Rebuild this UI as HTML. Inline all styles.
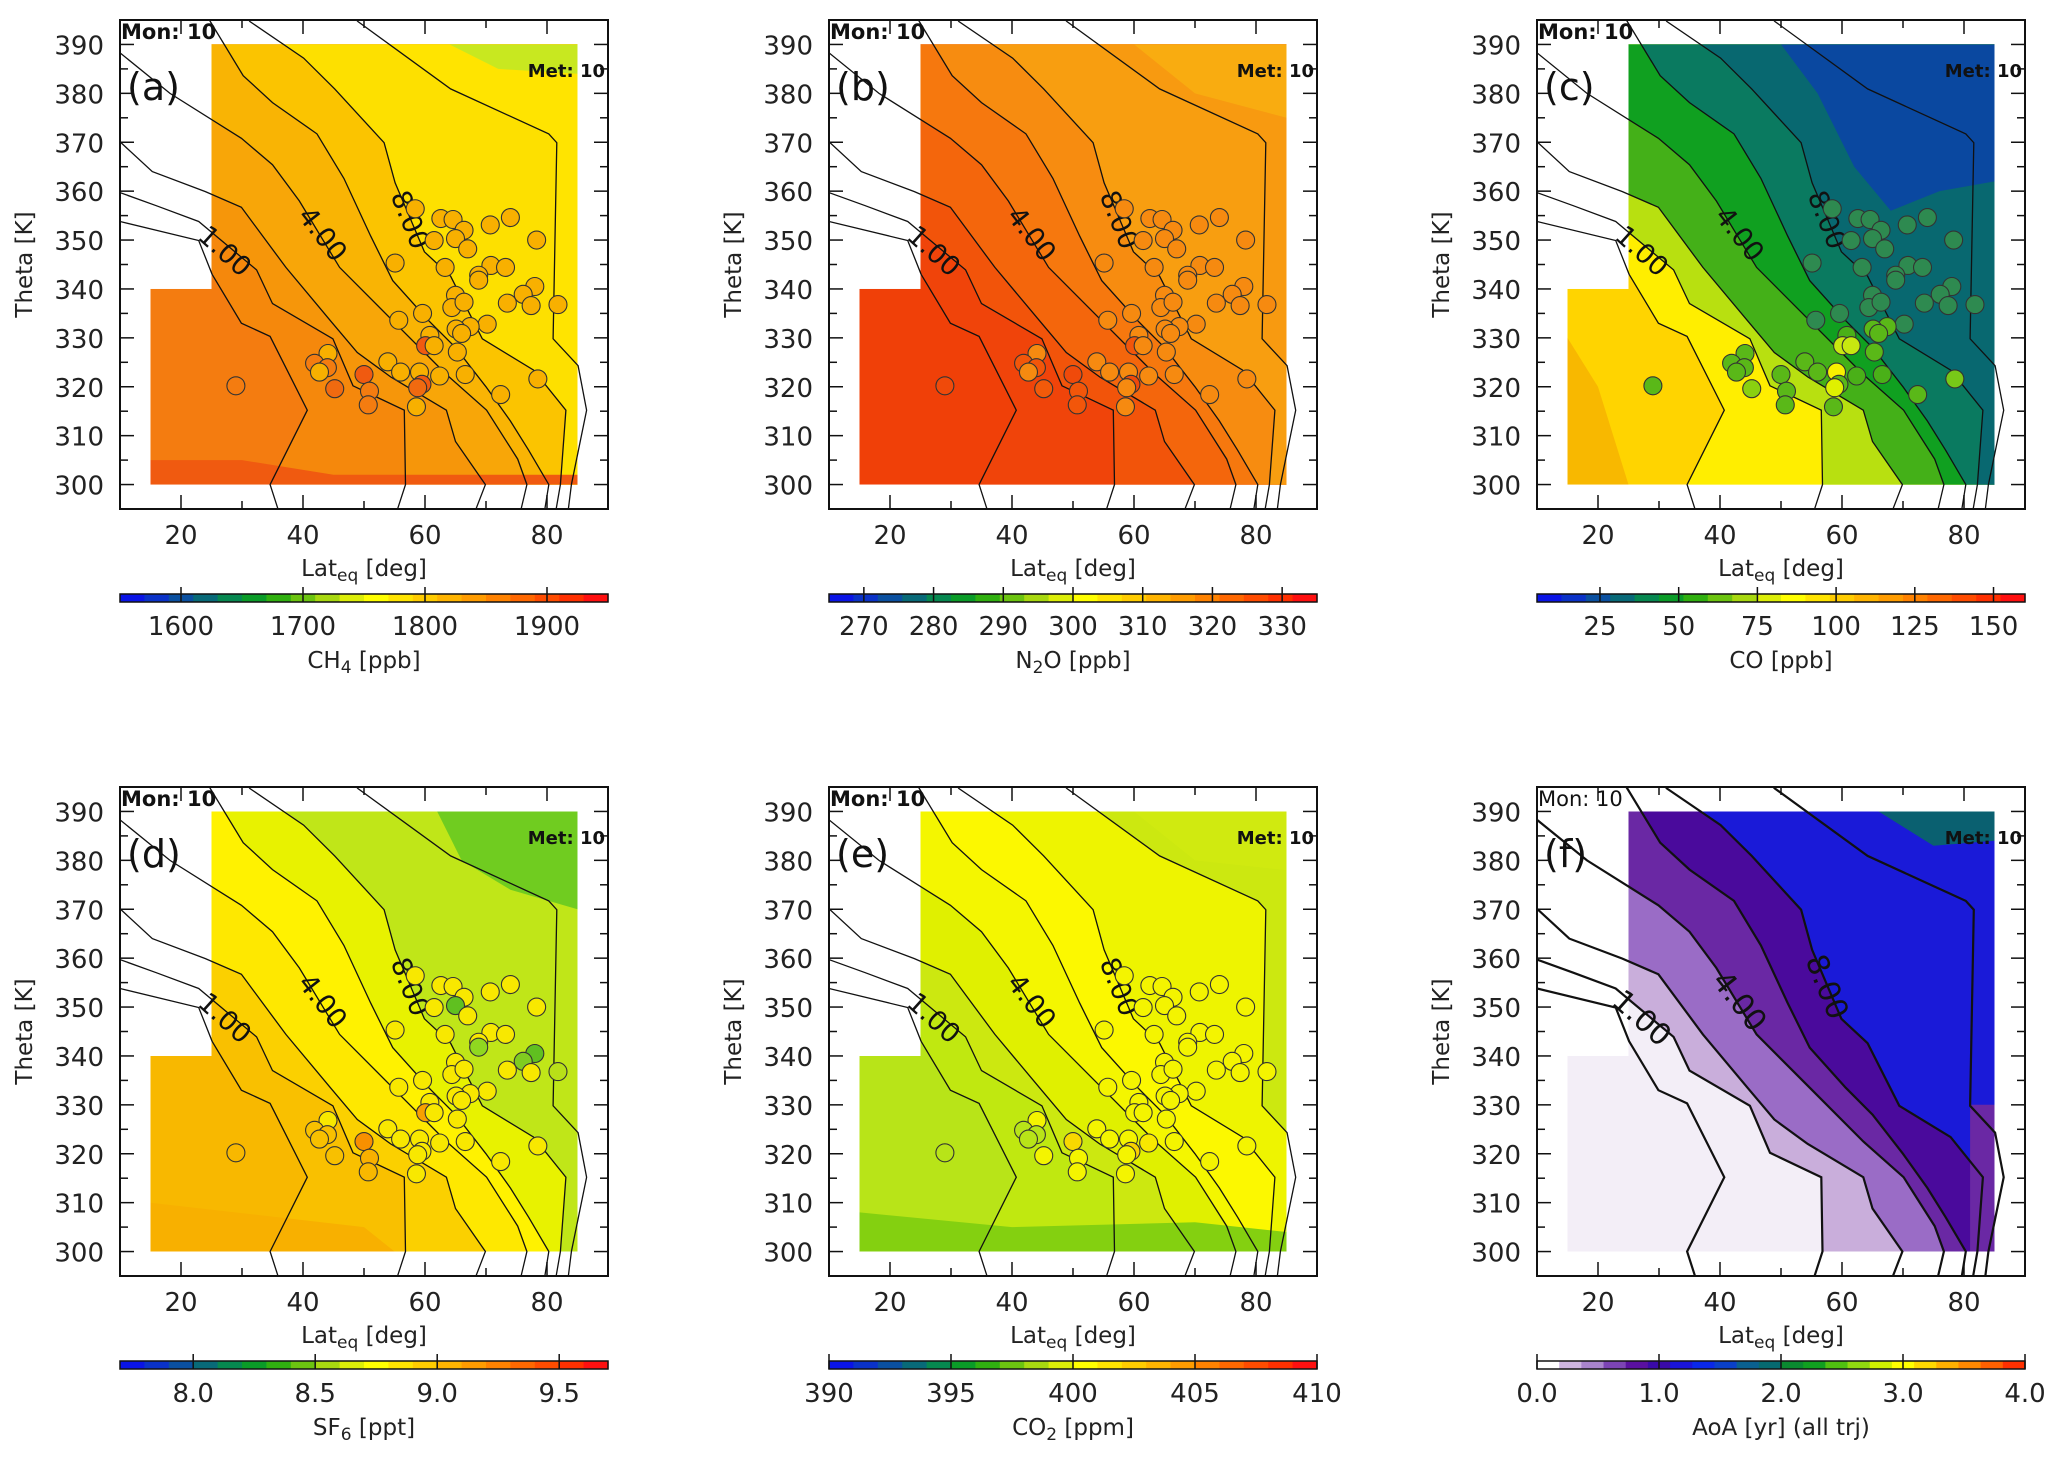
<!DOCTYPE html>
<html><head><meta charset="utf-8"><style>
html,body{margin:0;padding:0;background:#fff;}
svg{display:block;font-family:"DejaVu Sans","Liberation Sans",sans-serif;}
</style></head><body>
<svg id="fig" width="2067" height="1463" viewBox="0 0 2067 1463" xmlns="http://www.w3.org/2000/svg"></svg>
<script>
// ---- data ----
const obsLat=[29,58.4,62.6,64.6,66.4,70.7,74,61.5,65,67,78.3,55.1,63.3,70.8,73.2,68.8,68.8,78,76.1,77.4,73.5,81.8,65,64.4,66.4,55.7,59.6,70.2,67.4,65.1,66,60.8,60.1,61.5,65.3,44.1,41.9,44,42.7,45.2,50,50.9,50.7,53.9,56,59.1,62.4,66.6,59.5,58.8,58.6,72.4,78.5];
const obsTheta=[320.2,356.4,354.4,354.2,352,353.1,354.6,349.9,350.3,348.2,350,345.3,344.4,344.8,344.4,342.8,341.8,340.5,338.9,336.6,337.1,336.8,338.7,336.2,337.3,333.6,335,332.8,332.3,331.8,330.9,330.5,328.4,328.4,327.1,326.8,324.8,323.9,323,319.6,322.5,319.1,316.3,325.1,323,323,322.2,322.5,320.5,319.8,315.9,318.4,321.6];
const contourA=[[0,356],[10,353.8],[22.9,349.9],[25.1,343],[29.9,333],[34.6,330.3],[40.7,315.2],[34.6,300],[37.2,290]];
const contourB=[[0,362],[10,359.7],[16,357],[22.9,353.8],[32.4,343.9],[35,337],[44.9,329.8],[48.2,320.2],[56.6,315.2],[56.8,300],[54.2,290]];
const contourC=[[0,372],[10,370.1],[15.3,364],[24,359.9],[29.9,356.7],[37.2,344.4],[44.5,333.5],[48.9,327],[54.4,322],[63.5,315.2],[65,308.8],[69.9,300],[66.8,290]];
const contourD=[[0,391],[10,388.3],[18.2,380],[29.9,370.8],[35,365.4],[39.4,358],[46,344.4],[54.7,333.5],[63.5,322.5],[70.1,315.2],[75.2,305.2],[76.7,300],[74.8,290]];
const contourE=[[22,400],[24.8,394.7],[30.2,383.6],[35,378.1],[42.3,371.7],[46.7,362.6],[51.1,350.8],[54.7,341.7],[60.6,333.5],[65,328],[70,320],[74,313],[77,307],[80.3,300],[79,290]];
const contourF=[[28,400],[31.3,394.7],[40.1,387.2],[45.2,380.9],[53.3,369.9],[55.1,361.7],[59.9,347.6],[64.2,342.6],[69.4,329.8],[77.8,323.4],[83.1,315.2],[82.2,300],[80.8,290]];
const contourG=[[45,400],[49,394.7],[64.2,380.9],[80.3,371.7],[81.6,369.9],[81,329.8],[85.1,324.3],[86.5,315.2],[84,300],[83,290]];
const contours=[contourA,contourB,contourC,contourD,contourE,contourF,contourG];
const contourLabels=[["1.00",27,347.5,42],["4.00",43,351,52],["8.00",57.3,354,68]];
const xTicks=[20,40,60,80];
const yTicks=[300,310,320,330,340,350,360,370,380,390];
const dataRegion=[[15,300],[85,300],[85,390],[25,390],[25,340],[15,340]];
const rainbow=["#0a14e6","#0a32c8","#0a50a0","#086a78","#068850","#0a9c28","#30b010","#6cc410","#a8d810","#dcee08","#ffff00","#ffe400","#ffcc00","#ffb400","#ff9c00","#ff8200","#ff6800","#ff4c00","#ff3000","#ff1010"];
const aoaBar=["#ffffff","#cdb4e0","#a884cc","#7c44b4","#5a10a0","#3a0aa8","#1a14d8","#0a28e8","#0a40c8","#0a6090","#066a70","#0a8a30","#10a020","#50c010","#90d810","#d0f000","#ffff00","#ffd800","#ffb000","#ff8800","#ff6000","#ff3000"];
const panels=[
 {id:"a",col:0,row:0,title:"CH",sub:"4",unit:" [ppb]",min:1550,max:1950,ticks:[1600,1700,1800,1900],fmt:0,bar:rainbow,
  bands:["#f47c10","#f5880c","#f6960a","#f8a608","#f9b404","#fbc400","#fde000","#ffe400"],
  extra:[["#f05a10",[[15,300],[85,300],[85,302],[45,302],[30,305],[15,305]]],["#c8e820",[[64,390],[85,390],[85,384],[72,385]]]],
  circ:"#f8b000",circX:{0:"#f47c10",32:"#f05a10",40:"#f05a10",48:"#f05a10",49:"#f06a10",39:"#f06a10",36:"#f47c10",37:"#f47c10",41:"#f47c10",42:"#f47c10"}},
 {id:"b",col:1,row:0,title:"N",sub:"2",unit:"O [ppb]",min:265,max:335,ticks:[270,280,290,300,310,320,330],fmt:0,bar:rainbow,
  bands:["#f04008","#f0440a","#f2540a","#f4660c","#f6780e","#f78c10","#f89e10","#f89a10"],extra:[["#f9ac10",[[60,390],[85,390],[85,375],[70,380]]]],
  circ:"#f68a10",circX:{0:"#f04a0a",32:"#f2560a",40:"#f04a0a",48:"#f04a0a",39:"#f25a0a",36:"#f2560a",37:"#f2560a",41:"#f2560a",42:"#f2560a"}},
 {id:"c",col:2,row:0,title:"CO",sub:"",unit:" [ppb]",min:5,max:160,ticks:[25,50,75,100,125,150],fmt:0,bar:rainbow,
  bands:["#ffd400","#ffee00","#b8e010","#44b018","#10a020","#0a7a60","#086870","#086870"],
  extra:[["#0a48a0",[[50,390],[85,390],[85,362],[76,360],[68,356],[62,365],[56,380]]],["#f8b800",[[15,300],[25,300],[20,320],[15,330]]]],
  circ:"#2e8a50",circX:{0:"#5ab818",35:"#5ab818",36:"#5ab818",37:"#5ab818",38:"#5ab818",39:"#8ad010",40:"#5ab818",41:"#5ab818",42:"#5ab818",43:"#5ab818",44:"#5ab818",45:"#f8f000",46:"#4ab018",47:"#4ab018",48:"#5ab818",49:"#e0f000",50:"#5ab818",51:"#5ab818",52:"#78c818",32:"#c8e810",33:"#c8e810",34:"#5ab818",31:"#4ab018",30:"#5ab818",29:"#5ab818",28:"#5ab818"}},
 {id:"d",col:0,row:1,title:"SF",sub:"6",unit:" [ppt]",min:7.7,max:9.7,ticks:[8.0,8.5,9.0,9.5],fmt:1,bar:rainbow,
  bands:["#f8b800","#f9c000","#fbd000","#fee800","#fff200","#e8f200","#c0e618","#c0e618"],
  extra:[["#70cc20",[[62,390],[85,390],[85,370],[74,374],[66,380]]],["#f8b000",[[15,300],[55,300],[50,305],[15,310]]]],
  circ:"#f8e800",circX:{0:"#f8b800",36:"#f8c000",37:"#f8c000",38:"#f8c000",39:"#f8c000",40:"#f89000",41:"#f8b000",42:"#f8b800",32:"#f8a000",17:"#60c020",18:"#80cc20",8:"#60c020",16:"#90d820",21:"#b8e018"}},
 {id:"e",col:1,row:1,title:"CO",sub:"2",unit:" [ppm]",min:390,max:410,ticks:[390,395,400,405,410],fmt:0,bar:rainbow,
  bands:["#b8e418","#c0e810","#cce810","#e0f000","#f4f600","#fcf800","#eef400","#cce810"],
  extra:[["#84d010",[[15,300],[85,300],[85,304],[70,306],[40,305],[15,308]]],["#d0ea10",[[60,390],[85,390],[85,378],[70,380]]]],
  circ:"#f4f400",circX:{0:"#b8e418",36:"#b8e418",37:"#b8e418",38:"#b8e418",40:"#f8d800",48:"#f8d000",46:"#f8e800"}},
 {id:"f",col:2,row:1,title:"AoA [yr] (all trj)",sub:"",unit:"",min:0,max:4,ticks:[0,1,2,3,4],fmt:1,bar:aoaBar,
  bands:["#f3eef7","#f3eef7","#c9aedb","#9a6cc6","#6a28a4","#4a0a9c","#1a1ad8","#1a1ad8"],
  extra:[["#6a28a4",[[81,330],[85,330],[85,300],[81,300]]],["#0a6070",[[66,390],[85,390],[85,384],[75,383]]]],
  circ:null,circX:{}}
];
// ---- drawing ----
const NS="http://www.w3.org/2000/svg";
const svg=document.getElementById("fig");
function mk(tag,attrs,parent,text){const e=document.createElementNS(NS,tag);for(const k in attrs)e.setAttribute(k,attrs[k]);if(text!==undefined)e.textContent=text;(parent||svg).appendChild(e);return e;}
const dxs=[0,709,1417],dys=[0,767];
panels.forEach(p=>{
 const x0=120+dxs[p.col],x1=608+dxs[p.col],y0=20+dys[p.row],y1=509+dys[p.row];
 const X=lat=>x0+(lat-10)*(x1-x0)/80, Y=th=>y1-(th-295)*(y1-y0)/100;
 const pts=a=>a.map(q=>X(q[0]).toFixed(1)+","+Y(q[1]).toFixed(1)).join(" ");
 const g=mk("g",{},svg);
 
 
 const cp=mk("clipPath",{id:"reg"+p.id},g);
 mk("polygon",{points:pts(dataRegion)},cp);
 const cb=mk("clipPath",{id:"box"+p.id},g);
 mk("rect",{x:x0,y:y0,width:x1-x0,height:y1-y0},cb);
 const fill=mk("g",{"clip-path":"url(#reg"+p.id+")"},g);
 
 
 mk("polygon",{points:pts(dataRegion),fill:p.bands[0]},fill);
 contours.forEach((c,i)=>{
  const poly=c.concat([[100,290],[100,400],[0,400]]);
  const e=mk("polygon",{points:pts(poly),fill:p.bands[i+1]},fill);
  
  
 });
 p.extra.forEach(ex=>{const e=mk("polygon",{points:pts(ex[1]),fill:ex[0]},fill);
  
  });
 const lines=mk("g",{"clip-path":"url(#box"+p.id+")",fill:"none",stroke:"#111","stroke-width":p.id==="f"?2.2:1.3},g);
 contours.forEach(c=>{const e=mk("polyline",{points:pts(c)},lines);
  
  });
 contourLabels.forEach(l=>{const e=mk("text",{x:X(l[1]),y:Y(l[2]),transform:`rotate(${l[3]} ${X(l[1])} ${Y(l[2])})`,"font-size":p.id==="f"?30:27,"text-anchor":"middle","dominant-baseline":"middle",fill:"#111"},g,l[0]);
  
  });
 if(p.circ){obsLat.forEach((la,i)=>{const e=mk("circle",{cx:X(la),cy:Y(obsTheta[i]),r:9,fill:p.circX[i]||p.circ,stroke:"#333","stroke-width":1.1},g);
  
  });}
 const fr=mk("rect",{x:x0,y:y0,width:x1-x0,height:y1-y0,fill:"none",stroke:"#111","stroke-width":2},g);
 
 
 for(let la=20;la<=80;la+=10){const L=la%20===0?14:8;
  mk("line",{x1:X(la),x2:X(la),y1:y1,y2:y1-L,stroke:"#111","stroke-width":1.5},g);
  mk("line",{x1:X(la),x2:X(la),y1:y0,y2:y0+L,stroke:"#111","stroke-width":1.5},g);}
 for(let th=300;th<=390;th+=5){const L=th%10===0?14:8;
  mk("line",{x1:x0,x2:x0+L,y1:Y(th),y2:Y(th),stroke:"#111","stroke-width":1.5},g);
  mk("line",{x1:x1,x2:x1-L,y1:Y(th),y2:Y(th),stroke:"#111","stroke-width":1.5},g);}
 xTicks.forEach(t=>{const e=mk("text",{x:X(t),y:y1+35,"font-size":26,"text-anchor":"middle",fill:"#222"},g,String(t));
  });
 yTicks.forEach(t=>{const e=mk("text",{x:x0-16,y:Y(t)+10,"font-size":26,"text-anchor":"end",fill:"#222"},g,String(t));
  });
 const xl=mk("text",{x:(x0+x1)/2,y:y1+67,"font-size":23,"text-anchor":"middle",fill:"#222"},g);
 
 mk("tspan",{},xl,"Lat");mk("tspan",{"font-size":17,dy:5},xl,"eq");mk("tspan",{dy:-5},xl," [deg]");
 const yl=mk("text",{x:x0-88,y:(y0+y1)/2,"font-size":23,"text-anchor":"middle",fill:"#222",transform:`rotate(-90 ${x0-88} ${(y0+y1)/2})`},g,"Theta [K]");
 
 let e=mk("text",{x:x0+1,y:y0+19,"font-size":21,"font-weight":p.id==="f"?"normal":"bold",fill:"#111"},g,"Mon:  10");
 
 e=mk("text",{x:x1-3,y:y0+57,"font-size":18,"font-weight":"bold","text-anchor":"end",fill:"#111"},g,"Met:  10");
 
 e=mk("text",{x:x0+7,y:y0+80,"font-size":38,fill:"#111"},g,"("+p.id+")");
 
 const by0=y1+85,bh=8,n=p.bar.length,bw=(x1-x0)/n;
 const bar=mk("g",{},g);
 
 p.bar.forEach((c,i)=>mk("rect",{x:x0+i*bw,y:by0,width:bw+0.6,height:bh,fill:c},bar));
 mk("rect",{x:x0,y:by0,width:x1-x0,height:bh,fill:"none",stroke:"#111","stroke-width":1.5},bar);
 const BX=v=>x0+(v-p.min)/(p.max-p.min)*(x1-x0);
 p.ticks.forEach(t=>{mk("line",{x1:BX(t),x2:BX(t),y1:by0+bh,y2:by0-7,stroke:"#111","stroke-width":1.5},bar);
  const te=mk("text",{x:BX(t),y:by0+41,"font-size":26,"text-anchor":"middle",fill:"#222"},bar,t.toFixed(p.fmt));
  });
 const ct=mk("text",{x:(x0+x1)/2,y:by0+74,"font-size":23,"text-anchor":"middle",fill:"#222"},bar);
 
 mk("tspan",{},ct,p.title);
 if(p.sub){mk("tspan",{"font-size":17,dy:5},ct,p.sub);mk("tspan",{dy:-5},ct,p.unit);}else mk("tspan",{},ct,p.unit);
});
</script>
</body></html>
